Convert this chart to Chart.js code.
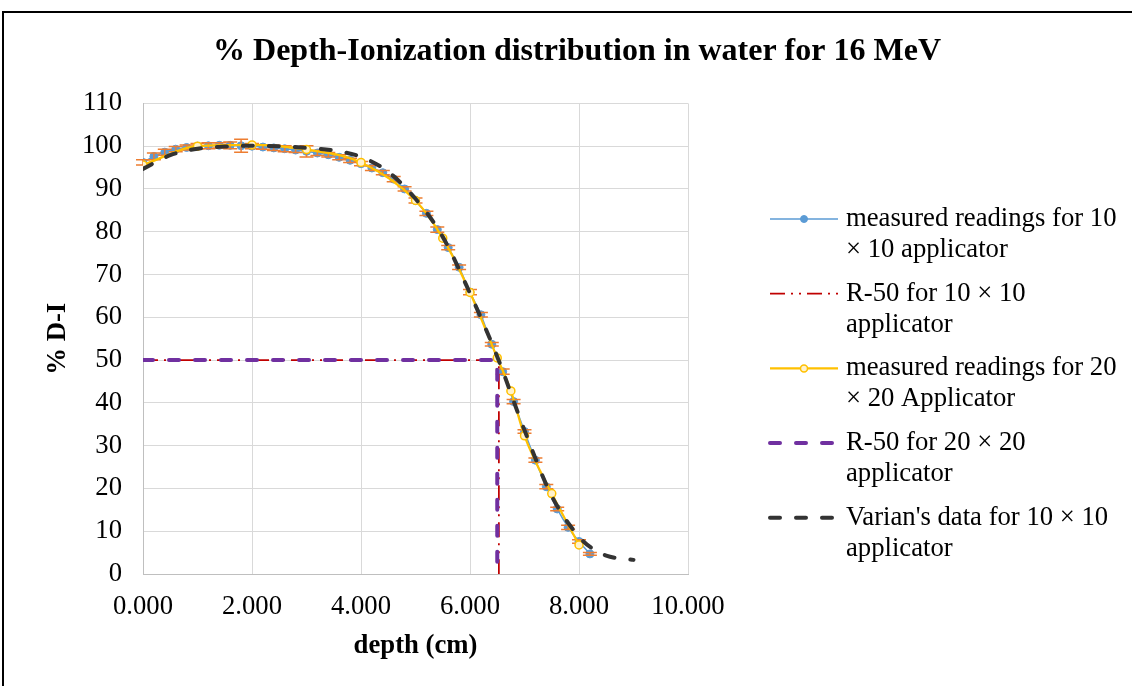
<!DOCTYPE html>
<html>
<head>
<meta charset="utf-8">
<title>% Depth-Ionization distribution in water for 16 MeV</title>
<script src="https://cdn.jsdelivr.net/npm/chart.js@4.4.1/dist/chart.umd.min.js"></script>
<style>
  html, body { margin: 0; padding: 0; background: #fff; overflow: hidden; }
  #frame { position: absolute; left: 2px; top: 11px; width: 1300px; height: 900px; border: 2px solid #000; }
  #wrap { position: absolute; left: 0; top: 0; width: 1132px; height: 686px; }
</style>
</head>
<body>
<div id="frame"></div>
<div id="wrap"><canvas id="pdd" width="1132" height="686"></canvas></div>
<script>
// measured readings, 10 x 10 applicator (depth in cm, % D-I, error)
const depth10 = [0.0, 0.2, 0.4, 0.6, 0.8, 1.0, 1.2, 1.4, 1.6, 1.8, 2.0, 2.2, 2.4, 2.6, 2.8, 3.0, 3.2, 3.4, 3.6, 3.8,
  4.0, 4.2, 4.4, 4.6, 4.8, 5.0, 5.2, 5.4, 5.6, 5.8, 6.0, 6.2, 6.4, 6.6, 6.8, 7.0, 7.2, 7.4, 7.6, 7.8, 8.0, 8.2];
const reading10 = [96.2, 97.6, 98.6, 99.3, 99.7, 100.0, 100.1, 100.2, 100.2, 100.1, 100.0, 99.8, 99.6, 99.4, 99.1, 98.8, 98.4, 98.0, 97.4, 96.7,
  95.9, 94.9, 93.8, 92.3, 90.0, 87.3, 84.3, 80.5, 76.3, 71.7, 65.9, 60.6, 53.7, 47.3, 40.3, 33.3, 26.6, 20.4, 15.2, 10.9, 7.6, 4.7];
const err10 = [0.6, 0.8, 0.7, 0.6, 0.6, 0.6, 0.7, 0.6, 0.8, 1.5, 0.6, 0.5, 0.6, 0.7, 0.6, 1.3, 0.6, 0.5, 0.6, 0.5,
  0.5, 0.6, 0.5, 0.6, 0.5, 0.6, 0.5, 0.6, 0.5, 0.5, 0.6, 0.5, 0.4, 0.6, 0.5, 0.4, 0.5, 0.5, 0.4, 0.5, 0.4, 0.3];

// measured readings, 20 x 20 applicator
const depth20 = [0, 1, 2, 3, 4, 5, 5.5, 6, 6.5, 6.75, 7, 7.5, 8];
const reading20 = [95.6, 100.0, 100.3, 99.2, 96.2, 87.3, 78.5, 65.8, 50.5, 42.8, 32.3, 18.8, 6.8];

// Varian's data, 10 x 10 applicator
const depthVarian = [0, 0.5, 1.0, 1.5, 2.0, 2.5, 3.0, 3.5, 4.0, 4.5, 5.0, 5.5, 6.0, 6.5, 7.0, 7.5, 8.0, 8.25, 8.5, 8.75, 9.0];
const doseVarian = [94.7, 97.9, 99.4, 99.9, 100.1, 100.0, 99.6, 99.0, 97.5, 94.0, 87.7, 78.8, 65.6, 50.8, 33.6, 18.2, 8.7, 5.9, 4.3, 3.6, 3.3];

// R-50 guide lines
const r50x10 = [0, 6.53, 6.53];
const r50y10 = [50, 50, 0];
const r50x20 = [0, 6.5, 6.5];
const r50y20 = [50, 50, 0];

const FONT = "'Liberation Serif', 'Times New Roman', serif";
const SIZE = 26.7;

const pts = (xs, ys) => xs.map((x, i) => ({ x, y: ys[i] }));

// orange error bars on the 10 x 10 readings
const errorBars = {
  id: 'errorBars',
  afterDatasetDraw(chart, args) {
    if (args.index !== 0) return;
    const { ctx, scales: { x, y } } = chart;
    ctx.save();
    ctx.strokeStyle = '#ED7D31';
    ctx.lineWidth = 1.5;
    depth10.forEach((d, i) => {
      const px = x.getPixelForValue(d);
      const top = y.getPixelForValue(reading10[i] + err10[i]);
      const bot = y.getPixelForValue(reading10[i] - err10[i]);
      ctx.beginPath();
      ctx.moveTo(px, top); ctx.lineTo(px, bot);
      ctx.moveTo(px - 7, top); ctx.lineTo(px + 7, top);
      ctx.moveTo(px - 7, bot); ctx.lineTo(px + 7, bot);
      ctx.stroke();
    });
    ctx.restore();
  }
};

// wrap a label to a max width
function wrapText(ctx, text, maxW) {
  const words = text.split(' ');
  const lines = [];
  let cur = '';
  words.forEach(w => {
    const test = cur ? cur + ' ' + w : w;
    if (cur && ctx.measureText(test).width > maxW) {
      lines.push(cur);
      cur = w;
    } else {
      cur = test;
    }
  });
  lines.push(cur);
  return lines;
}

// legend on the right, Excel style (line sample + marker)
const sideLegend = {
  id: 'sideLegend',
  afterDraw(chart) {
    const ctx = chart.ctx;
    const x0 = 770, len = 68, textX = 846, lineH = 31, gap = 12.7;
    let y = 219;
    ctx.save();
    ctx.font = SIZE + 'px ' + FONT;
    ctx.textBaseline = 'middle';
    chart.data.datasets.forEach(ds => {
      ctx.strokeStyle = ds.borderColor;
      ctx.lineWidth = ds.borderWidth;
      ctx.lineCap = ds.borderCapStyle || 'butt';
      ctx.setLineDash(ds.borderDash || []);
      ctx.beginPath();
      ctx.moveTo(x0, y);
      ctx.lineTo(x0 + len, y);
      ctx.stroke();
      ctx.setLineDash([]);
      if (ds.pointRadius) {
        ctx.beginPath();
        ctx.arc(x0 + len / 2, y, ds.pointRadius - 0.5, 0, Math.PI * 2);
        ctx.fillStyle = ds.pointBackgroundColor;
        ctx.fill();
        ctx.lineWidth = ds.pointBorderWidth;
        ctx.strokeStyle = ds.pointBorderColor;
        ctx.stroke();
      }
      ctx.fillStyle = '#000';
      const lines = wrapText(ctx, ds.label, 280);
      lines.forEach((t, k) => ctx.fillText(t, textX, y + k * lineH));
      y += lines.length * lineH + gap;
    });
    ctx.restore();
  }
};

new Chart(document.getElementById('pdd'), {
  type: 'scatter',
  data: {
    datasets: [
      {
        label: 'measured readings for 10 × 10 applicator',
        data: pts(depth10, reading10),
        showLine: true,
        borderColor: '#5B9BD5',
        borderWidth: 1.5,
        pointRadius: 4,
        pointBackgroundColor: '#5B9BD5',
        pointBorderColor: '#5B9BD5',
        pointBorderWidth: 1,
        cubicInterpolationMode: 'monotone',
        order: 5
      },
      {
        label: 'R-50 for 10 × 10 applicator',
        data: pts(r50x10, r50y10),
        showLine: true,
        borderColor: '#C00000',
        borderWidth: 1.75,
        borderDash: [15, 6, 2, 6, 2, 6],
        pointRadius: 0,
        order: 4
      },
      {
        label: 'measured readings for 20 × 20 Applicator',
        data: pts(depth20, reading20),
        showLine: true,
        borderColor: '#FFC000',
        borderWidth: 2.25,
        pointRadius: 4,
        pointBackgroundColor: '#FFF2CC',
        pointBorderColor: '#FFC000',
        pointBorderWidth: 1.5,
        cubicInterpolationMode: 'monotone',
        order: 3
      },
      {
        label: 'R-50 for 20 × 20 applicator',
        data: pts(r50x20, r50y20),
        showLine: true,
        borderColor: '#7030A0',
        borderWidth: 4,
        borderDash: [10, 16],
        borderCapStyle: 'round',
        pointRadius: 0,
        order: 2
      },
      {
        label: "Varian's data for 10 × 10 applicator",
        data: pts(depthVarian, doseVarian),
        showLine: true,
        borderColor: '#333333',
        borderWidth: 4,
        borderDash: [10, 16],
        borderCapStyle: 'round',
        pointRadius: 0,
        cubicInterpolationMode: 'monotone',
        order: 1
      }
    ]
  },
  options: {
    responsive: false,
    animation: false,
    devicePixelRatio: 1,
    layout: { padding: { left: 22, right: 0, top: 0, bottom: 0 } },
    plugins: {
      legend: { display: false },
      tooltip: { enabled: false },
      title: {
        display: true,
        text: '% Depth-Ionization distribution in water for 16 MeV',
        color: '#000',
        font: { family: FONT, size: 32, weight: 'bold', lineHeight: 1.2 },
        padding: { top: 33, bottom: 32 }
      }
    },
    scales: {
      x: {
        type: 'linear',
        min: 0,
        max: 10,
        ticks: {
          stepSize: 2,
          padding: 17,
          color: '#000',
          font: { family: FONT, size: SIZE },
          callback: v => v.toFixed(3)
        },
        grid: { color: '#D9D9D9', drawTicks: false },
        border: { color: '#BFBFBF' },
        title: {
          display: true,
          text: 'depth (cm)',
          color: '#000',
          font: { family: FONT, size: SIZE, weight: 'bold', lineHeight: 1.2 },
          padding: { top: 0, bottom: 24 }
        },
        afterFit: s => { s.height = 112; }
      },
      y: {
        type: 'linear',
        min: 0,
        max: 110,
        ticks: {
          stepSize: 10,
          padding: 21,
          color: '#000',
          font: { family: FONT, size: SIZE }
        },
        grid: { color: '#D9D9D9', drawTicks: false },
        border: { color: '#BFBFBF' },
        title: {
          display: true,
          text: '% D-I',
          color: '#000',
          font: { family: FONT, size: SIZE, weight: 'bold', lineHeight: 1.2 },
          padding: { top: 20, bottom: 0 }
        },
        afterFit: s => { s.width = 121; }
      },
      // empty axis that keeps room for the legend on the right
      legendSpace: {
        axis: 'y',
        position: 'right',
        display: true,
        grid: { display: false },
        border: { display: false },
        ticks: { display: false },
        afterFit: s => { s.width = 444; }
      }
    }
  },
  plugins: [errorBars, sideLegend]
});
</script>
</body>
</html>
